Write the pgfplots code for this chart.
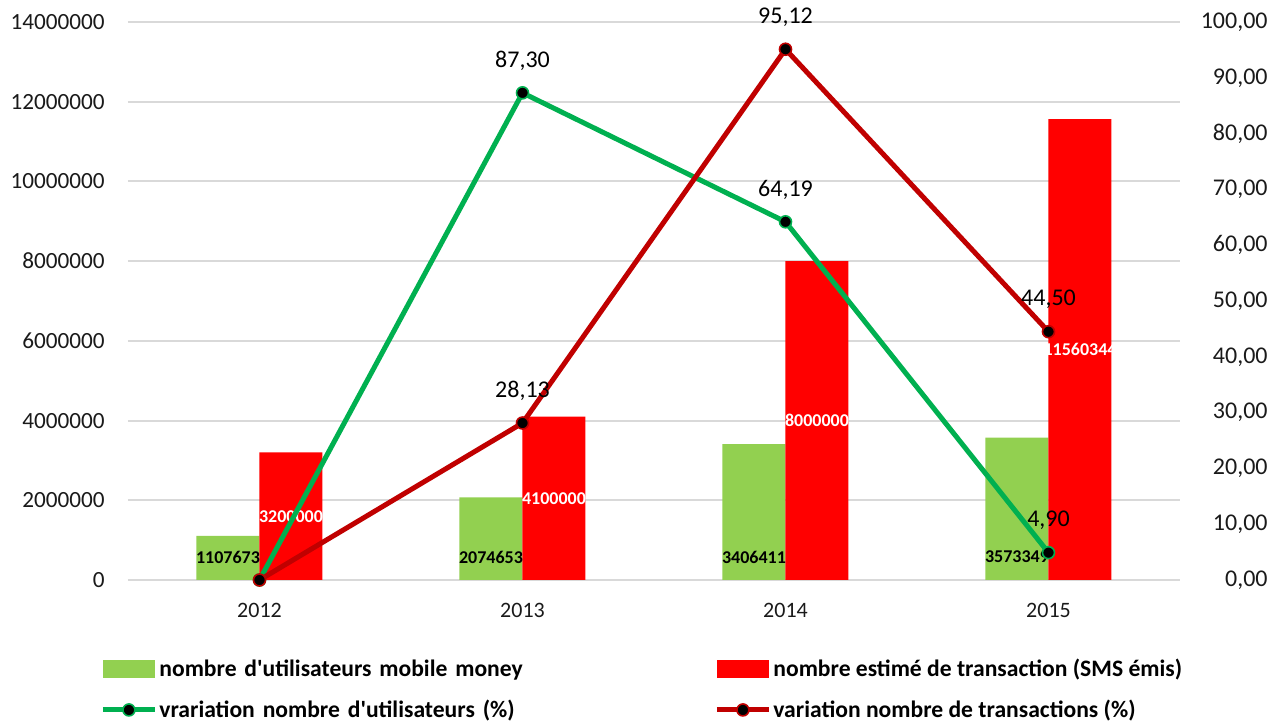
\documentclass[border=0pt]{standalone}
\usepackage{fontspec}
\setmainfont{Carlito}
\usepackage{pgfplots}
\pgfplotsset{compat=1.18}
\definecolor{barG}{HTML}{92D050}
\definecolor{barR}{HTML}{FF0000}
\definecolor{lineG}{HTML}{00B050}
\definecolor{lineR}{HTML}{C00000}
\definecolor{gridc}{HTML}{D9D9D9}
\definecolor{tick}{HTML}{1A1A1A}
\pgfplotsset{
  linelegend/.style={legend image code/.code={%
    \draw[##1, sharp plot, mark repeat=2, mark phase=2] plot coordinates {(0pt,0pt) (13pt,0pt) (26pt,0pt)};}},
  barlegend/.style={legend image code/.code={\fill[#1] (0pt,-4.5pt) rectangle (26pt,4.5pt);}},
}

\begin{document}
\begin{tikzpicture}
\path[use as bounding box] (-64pt,-71pt) rectangle (579pt,290pt);
\begin{axis}[
  name=main, at={(0,0)}, anchor=south west,
  scale only axis, width=526pt, height=279pt,
  xmin=-0.5, xmax=3.5, ymin=0, ymax=14000000,
  xtick={0,1,2,3}, xticklabels={2012,2013,2014,2015},
  ytick={0,2000000,4000000,6000000,8000000,10000000,12000000,14000000},
  scaled y ticks=false,
  /pgf/number format/assume math mode=true,
  yticklabel style={/pgf/number format/fixed, /pgf/number format/1000 sep={},
    anchor=east, inner sep=0pt, xshift=-11.5pt, font=\fontsize{11.6}{13}\selectfont},
  xticklabel style={anchor=center, inner sep=0pt, yshift=-15pt, font=\fontsize{11}{13}\selectfont},
  tick label style={text=tick},
  major tick length=0pt,
  axis line style={draw=none},
  ymajorgrids, grid style={gridc, line width=1pt},
  ybar, bar width=31.5pt,
  legend columns=2,
  legend style={at={(-0.0266,-0.134)}, anchor=north west, draw=none, fill=none,
    inner sep=0pt, font=\bfseries\fontsize{11.8}{13}\selectfont,
    /tikz/every odd column/.append style={column sep=-1pt},
    /tikz/column 2/.style={text width=275.5pt},
    row sep=6pt},
  legend cell align=left,
]
\addplot[fill=barG, draw=none, bar shift=-15.75pt, barlegend=barG]
  coordinates {(0,1107673) (1,2074653) (2,3406411) (3,3573349)};
\addlegendentry{nombre d\textquotesingle utilisateurs mobile money}
\addplot[fill=barR, draw=none, bar shift=15.75pt, barlegend=barR]
  coordinates {(0,3200000) (1,4100000) (2,8000000) (3,11560344)};
\addlegendentry{nombre estimé de transaction (SMS émis)}
\addlegendimage{lineG, line width=2.5pt, mark=*, mark size=3pt,
  mark options={fill=black, draw=lineG, line width=0.8pt}, linelegend}
\addlegendentry{vrariation nombre d\textquotesingle utilisateurs (\%)}
\addlegendimage{lineR, line width=2.5pt, mark=*, mark size=3pt,
  mark options={fill=black, draw=lineR, line width=0.8pt}, linelegend}
\addlegendentry{variation nombre de transactions (\%)}
% bar value labels
\begin{scope}[font=\bfseries\fontsize{9}{10}\selectfont, inner sep=0pt]
\node[xshift=-15.75pt, yshift=11.5pt] at (axis cs:0,0) {1107673};
\node[xshift=-15.75pt, yshift=11.5pt] at (axis cs:1,0) {2074653};
\node[xshift=-15.75pt, yshift=11.5pt] at (axis cs:2,0) {3406411};
\node[xshift=-15.75pt, yshift=11.5pt] at (axis cs:3,0) {3573349};
\node[white, xshift=15.75pt] at (axis cs:0,1600000) {3200000};
\node[white, xshift=15.75pt] at (axis cs:1,2050000) {4100000};
\node[white, xshift=15.75pt] at (axis cs:2,4000000) {8000000};
\node[white, xshift=15.75pt] at (axis cs:3,5780172) {11560344};
\end{scope}
\end{axis}
\begin{axis}[
  at={(0,0)}, anchor=south west,
  scale only axis, width=526pt, height=279pt,
  xmin=-0.5, xmax=3.5, ymin=0, ymax=100,
  hide x axis, axis y line*=right,
  axis line style={draw=none}, major tick length=0pt,
  ytick={0,10,...,100},
  /pgf/number format/assume math mode=true,
  yticklabel style={/pgf/number format/fixed, /pgf/number format/fixed zerofill,
    /pgf/number format/precision=2, /pgf/number format/use comma,
    anchor=east, inner sep=0pt, xshift=44pt,
    font=\fontsize{12}{13}\selectfont, text=tick},
  clip=false,
]
\addplot[lineG, line width=2.5pt, mark=*, mark size=3pt,
  mark options={fill=black, draw=lineG, line width=0.8pt}]
  coordinates {(0,0) (1,87.30) (2,64.19) (3,4.90)};
\addplot[lineR, line width=2.5pt, mark=*, mark size=3pt,
  mark options={fill=black, draw=lineR, line width=0.8pt}]
  coordinates {(0,0) (1,28.13) (2,95.12) (3,44.50)};
\begin{scope}[font=\fontsize{12}{14}\selectfont, inner sep=0pt, yshift=16pt]
\node at (axis cs:1,87.30) {87,30};
\node at (axis cs:2,64.19) {64,19};
\node at (axis cs:3,4.90) {4,90};
\node at (axis cs:1,28.13) {28,13};
\node at (axis cs:2,95.12) {95,12};
\node at (axis cs:3,44.50) {44,50};
\end{scope}
\end{axis}
\end{tikzpicture}
\end{document}
